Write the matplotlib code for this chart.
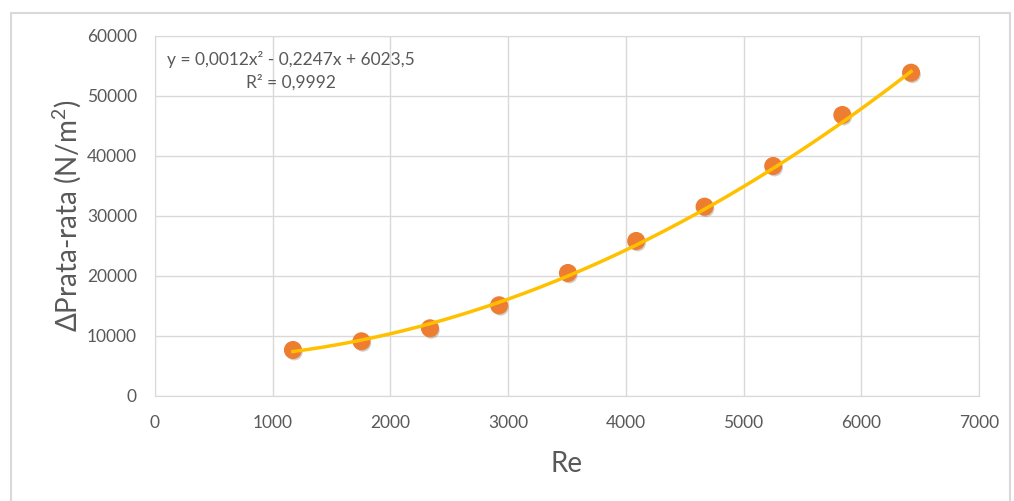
import matplotlib
matplotlib.use('Agg')
import matplotlib.pyplot as plt
import matplotlib.patheffects as pe
import numpy as np

plt.rcParams['font.family'] = ['Lato', 'DejaVu Sans']
plt.rcParams['mathtext.fontset'] = 'custom'
plt.rcParams['mathtext.rm'] = 'Lato'
plt.rcParams['mathtext.it'] = 'Lato'

# data
re_values = [1172, 1754, 2336, 2923, 3508, 4088, 4669, 5252, 5839, 6423]
dp_values = [7667, 9117, 11283, 15117, 20500, 25833, 31550, 38333, 46833, 53883]

# trendline coefficients as printed on the chart
trend_coef = [0.0012, -0.2247, 6023.5]
trend_text = 'y = 0,0012x² - 0,2247x + 6023,5\nR² = 0,9992'

x_ticks = [0, 1000, 2000, 3000, 4000, 5000, 6000, 7000]
y_ticks = [0, 10000, 20000, 30000, 40000, 50000, 60000]

text_color = '#595959'
grid_color = '#D9D9D9'

fig = plt.figure(figsize=(10.14, 5.01), dpi=100)
fig.patches.append(plt.Rectangle((11/1014, -0.1), (1010-11)/1014, 1 - 13/501 + 0.1,
                                 transform=fig.transFigure, fill=False,
                                 edgecolor='#D9D9D9', linewidth=1.5))

ax = fig.add_axes([155/1014, 1 - 396/501, (979-155)/1014, (396-36)/501])

x_fit = np.linspace(re_values[0], re_values[-1], 200)

ax.plot(re_values, dp_values, linestyle='none', marker='o', markersize=12,
        markerfacecolor='#ED7D31', markeredgecolor='#ED7D31', zorder=3,
        path_effects=[pe.SimplePatchShadow(offset=(1, -1.5), shadow_rgbFace='#7a7a7a', alpha=0.35),
                      pe.Normal()])
# trendline drawn over the markers like excel does
ax.plot(x_fit, np.polyval(trend_coef, x_fit), color='#FFC000', linewidth=2.5, zorder=4)

ax.set_xlim(0, 7000)
ax.set_ylim(0, 60000)
ax.set_xticks(x_ticks)
ax.set_yticks(y_ticks)
ax.grid(True, color=grid_color, linewidth=1)
ax.set_axisbelow(True)
for s in ax.spines.values():
    s.set_color(grid_color)
ax.tick_params(length=0, labelsize=12.5, colors=text_color)
ax.tick_params(axis='x', pad=14)
ax.tick_params(axis='y', pad=13)

ax.set_xlabel('Re', fontsize=20, color=text_color, labelpad=14)
ax.set_ylabel('ΔPrata-rata (N/m$^2$)', fontsize=20, color=text_color, labelpad=3)

ax.text(0.165, 0.957, trend_text, transform=ax.transAxes, ha='center', va='top',
        multialignment='center', fontsize=12.5, color=text_color, linespacing=1.45)

fig.savefig('out.png', dpi=100)
